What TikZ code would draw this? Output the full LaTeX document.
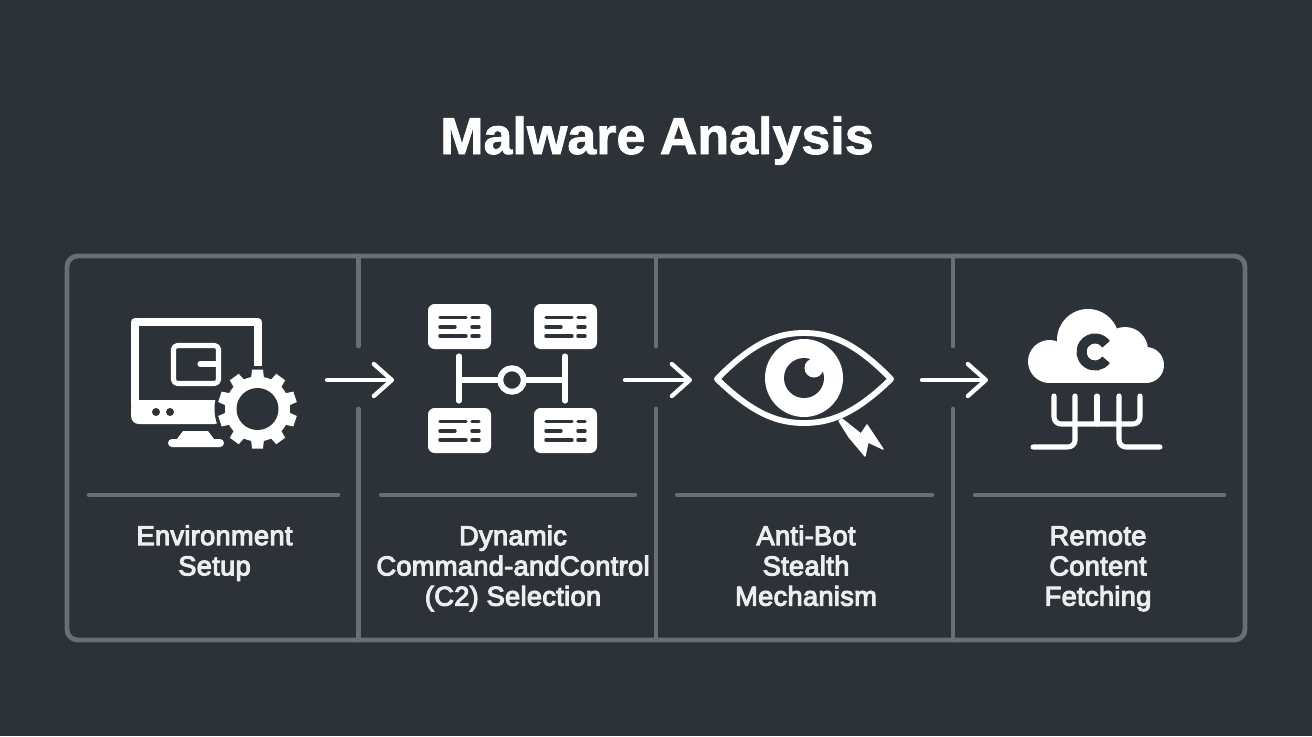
\documentclass[tikz,border=0pt]{standalone}
\usepackage{fontspec}
\setmainfont{Liberation Sans}
\usetikzlibrary{arrows.meta}
\definecolor{bgc}{RGB}{45,50,57}
\definecolor{framec}{RGB}{104,111,118}
\definecolor{inkc}{RGB}{255,255,255}
\definecolor{labelc}{RGB}{236,237,238}
\newfontfamily\labelfont[FakeBold=4,LetterSpace=1.2]{Liberation Sans}
\newfontfamily\titlefont[FakeBold=1.5]{Liberation Sans Bold}
\tikzset{
  x=0.75pt,y=-0.75pt,
  framepen/.style={draw=framec,line width=3.6pt,line cap=round},
  rulepen/.style={draw=framec,line width=3.4pt,line cap=round},
  flow/.style={draw=inkc,line width=3.2pt,line cap=round,-{Straight Barb[length=13.5pt,width=24pt,round]}},
  ink/.style={draw=inkc,line width=#1,line cap=round,line join=round},
  ink/.default=3.8pt,
  cardbox/.style={fill=inkc,rounded corners=5pt},
  cardtext/.style={draw=bgc,line width=2.6pt,line cap=round},
  steplabel/.style={text=labelc,font=\labelfont\fontsize{20.4pt}{22.7pt}\selectfont,align=center,anchor=center,inner sep=0pt},
  titlelabel/.style={text=inkc,font=\titlefont\fontsize{39pt}{46pt}\selectfont,anchor=base}
}
\newcommand{\cardicon}[2]{%
  \begin{scope}[shift={(#1,#2)}]
    \fill[cardbox] (0,0) rectangle (63,45);
    \draw[cardtext] (12,13.5)--(38,13.5) (12,23)--(27,23) (12,32)--(38,32);
    \draw[cardtext] (44,13.5)--(51,13.5) (44,23)--(51,23) (44,32)--(51,32);
  \end{scope}}
\begin{document}
\begin{tikzpicture}
\useasboundingbox (0,0) rectangle (1312,736);
\fill[bgc] (0,0) rectangle (1312,736);
\node[titlelabel] (title) at (657,154) {Malware Analysis};
% frame
\draw[framepen,rounded corners=8pt] (67,256) rectangle (1245,640);
\foreach \xx/\nn in {358.5/a,656/b,953/c}{
  \coordinate (top\nn) at (\xx,256);
  \coordinate (up\nn) at (\xx,346);
  \coordinate (lo\nn) at (\xx,409);
  \coordinate (bot\nn) at (\xx,640);
  \draw[framepen] (top\nn)--(up\nn);
  \draw[framepen] (lo\nn)--(bot\nn);
}
\foreach \xa/\xb in {89/338,381/635,677/932,975/1224}{
  \draw[rulepen] (\xa,495)--(\xb,495);
}
% arrows
\coordinate (a1s) at (327,380); \coordinate (a1e) at (394,380);
\coordinate (a2s) at (625,380); \coordinate (a2e) at (692,380);
\coordinate (a3s) at (922,380); \coordinate (a3e) at (988,380);
\draw[flow] (a1s)--(a1e);
\draw[flow] (a2s)--(a2e);
\draw[flow] (a3s)--(a3e);
% --- icon 1: monitor
\draw[ink=6pt,line cap=butt,line join=round] (258,366)--(258,322)--(135,322)--(135,404);
\fill[inkc,rounded corners=6pt] (131,400) rectangle (222,424);
\fill[inkc] (131,400) rectangle (222,406);
\fill[bgc] (156,412) circle (4) (170,412) circle (4);
\fill[inkc] (183,431)--(208,431)--(214,439)--(220,439) arc (-90:90:4) -- (172,447) arc (90:270:4) -- (177,439) -- cycle;
\draw[ink=3.8pt,rounded corners=3pt] (173.5,345.5) rectangle (218.5,383.5);
\draw[ink=3.8pt] (200,364)--(218,364);
% gear
\fill[bgc] (257.5,409) circle (43);
\fill[inkc] (257.5,409) circle (32.5);
\foreach \a in {0,36,...,324}{
  \fill[inkc,rotate around={\a:(257.5,409)}] (252,409-39.5)--(263,409-39.5)--(264,409-30)--(251,409-30)--cycle;
}
\fill[bgc] (257.5,409) circle (21);
% --- icon 2: C2
\cardicon{428}{304}\cardicon{534}{304}\cardicon{428}{408}\cardicon{534}{408}
\draw[ink=3.8pt] (459,356)--(459,401) (565,356)--(565,401);
\draw[ink=3.8pt] (459,380)--(565,380);
\filldraw[ink=4.4pt,fill=bgc] (512,380) circle (11.8);
% --- icon 3: eye
\draw[ink=4.4pt] (717,379) .. controls (755,340) and (780,333) .. (804,333) .. controls (828,333) and (853,340) .. (891,379) .. controls (853,416) and (828,423) .. (804,423) .. controls (780,423) and (755,416) .. (717,379) -- cycle;
\fill[inkc] (804,378) circle (39);
\fill[bgc] (804,378) circle (20);
\fill[inkc] (814,368) circle (9.5);
\fill[inkc,draw=inkc,line width=1pt,line join=round] (839,421)--(842,419)--(861,434)--(867,425)--(883,449)--(868,442)--(865,456)--(849,437)--cycle;
% --- icon 4: cloud
\fill[inkc] (1088,340) circle (31) (1125,350) circle (23) (1146,365) circle (18) (1049.5,361.5) circle (21.5);
\fill[inkc] (1050,352) rectangle (1146,383);
\draw[bgc,line width=7.5pt] (1095,352) ++(35:13.5) arc (35:325:13.5);
\draw[ink=3.8pt] (1054,396)--(1054,417) arc (180:90:7)--(1133,424) arc (90:0:7)--(1140,396);
\draw[ink=3.8pt] (1075,396)--(1075,440) arc (0:90:7)--(1033,447);
\draw[ink=3.8pt] (1119,396)--(1119,440) arc (180:90:7)--(1160,447);
\draw[ink=3.8pt] (1097,396)--(1097,424);
% labels
\node[steplabel] (s1) at (214.5,554.1) {\strut Environment\\\strut Setup};
\node[steplabel] (s2) at (513,569.3) {\strut Dynamic\\\strut Command-andControl\\\strut (C2) Selection};
\node[steplabel] (s3) at (806,569.3) {\strut Anti-Bot\\\strut Stealth\\\strut Mechanism};
\node[steplabel] (s4) at (1098,569.3) {\strut Remote\\\strut Content\\\strut Fetching};
\end{tikzpicture}
\end{document}
